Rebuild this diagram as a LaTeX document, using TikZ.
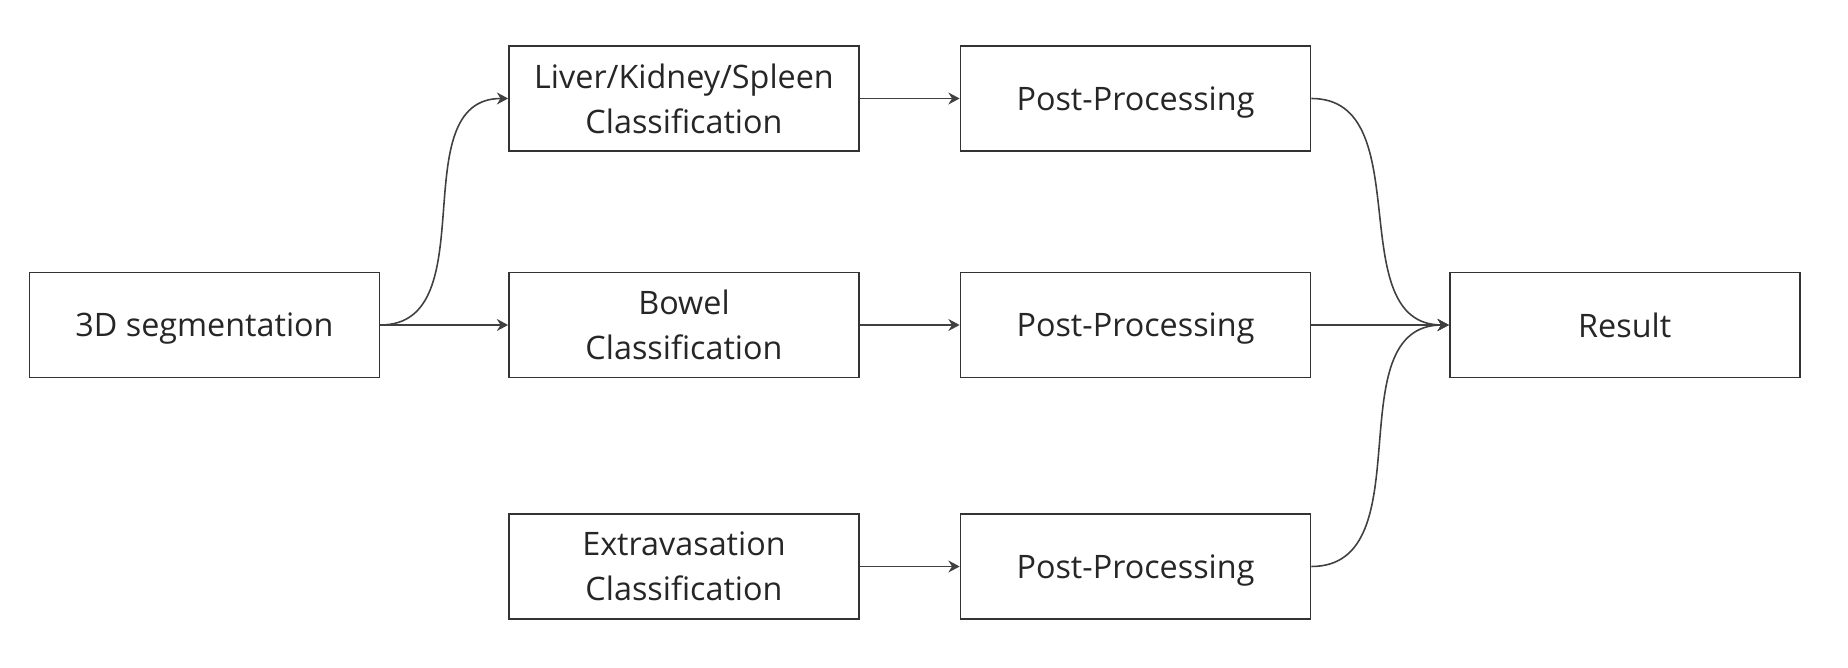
\documentclass[tikz,border=0pt]{standalone}
\usepackage{fontspec}
\setmainfont{Open Sans}
\usetikzlibrary{positioning,arrows.meta}

\begin{document}
\begin{tikzpicture}[
      every node/.style={font=\fontsize{9.2}{12.8}\selectfont,text=black!85},
      blk/.style={draw=black!80,line width=0.5pt,minimum width=3.5cm,minimum height=1.05cm,
        align=center,inner sep=2pt,text depth=0pt},
      ed/.style={draw=black!75,line width=0.45pt,-{Stealth[length=3.2pt,width=3.4pt]}},
      sed/.style={ed,out=0,in=180,looseness=1.05}
    ]
    \useasboundingbox (0,0) rectangle (18.48,-6.68);
    % input
    \node[blk] (seg) at (2.045,-3.25) {3D segmentation};
    % classifiers
    \node[blk] (lks) at (6.84,-0.985) {Liver/Kidney/Spleen\\Classification};
    \node[blk] (bwl) at (6.84,-3.25) {Bowel\\Classification};
    \node[blk] (ext) at (6.84,-5.665) {Extravasation\\Classification};
    % post-processing
    \node[blk] (pp1) at (11.355,-0.985) {Post-Processing};
    \node[blk] (pp2) at (11.355,-3.25) {Post-Processing};
    \node[blk] (pp3) at (11.355,-5.665) {Post-Processing};
    % output
    \node[blk] (res) at (16.247,-3.25) {Result};
    % edges
    \draw[sed] (seg.east) to (lks.west);
    \draw[ed] (seg) -- (bwl);
    \foreach \a/\b in {lks/pp1,bwl/pp2,ext/pp3}{\draw[ed] (\a) -- (\b);}
    \draw[sed] (pp1.east) to (res.west);
    \draw[ed] (pp2) -- (res);
    \draw[sed] (pp3.east) to (res.west);
  \end{tikzpicture}
\end{document}
